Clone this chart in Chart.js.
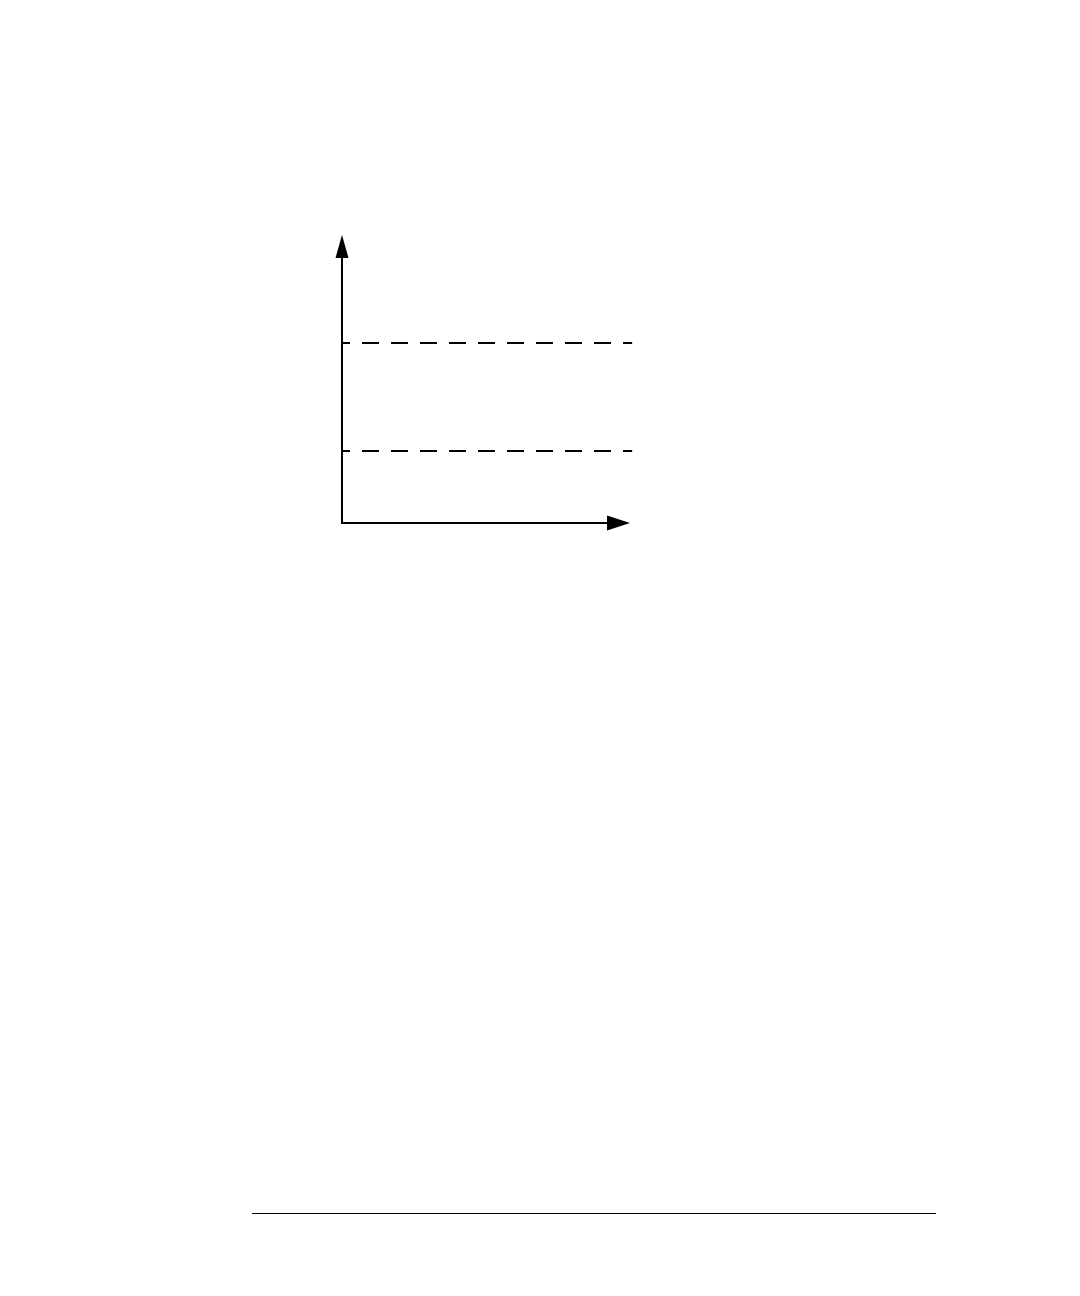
<!DOCTYPE html>
<html>
<head>
<meta charset="utf-8">
<title>Levels</title>
<script src="https://cdn.jsdelivr.net/npm/chart.js@4/dist/chart.umd.min.js"></script>
<style>
    html, body { margin: 0; padding: 0; background: #ffffff; }
    #wrap { position: relative; width: 1080px; height: 1296px; }
    #footerRule {
        position: absolute;
        left: 252px;
        top: 1213px;
        width: 684px;
        height: 0;
        border-top: 1.5px solid #000000;
    }
</style>
</head>
<body>
<div id="wrap">
    <canvas id="levelChart" width="1080" height="1296"></canvas>
    <div id="footerRule"></div>
</div>
<script>
// Axis ranges
const xRange = [0, 4];
const yRange = [0, 4];
// Horizontal dashed levels (lower, upper) and where they stop on x
const levelValues = [1, 2.5];
const levelSpan = [0, 4.03];

(function () {
    let levelChart = null;

    // Draw the two axes with arrow heads
    const arrowAxes = {
        id: 'arrowAxes',
        afterDraw(chart) {
            const ctx = chart.ctx;
            const area = chart.chartArea;
            const x0 = area.left;
            const y0 = area.bottom;

            ctx.save();
            ctx.strokeStyle = '#000000';
            ctx.fillStyle = '#000000';
            ctx.lineWidth = 2;

            // vertical axis
            ctx.beginPath();
            ctx.moveTo(x0, y0 + 1);
            ctx.lineTo(x0, area.top + 20);
            ctx.stroke();
            ctx.beginPath();
            ctx.moveTo(x0, area.top);
            ctx.lineTo(x0 - 6.5, area.top + 23);
            ctx.lineTo(x0 + 6.5, area.top + 23);
            ctx.closePath();
            ctx.fill();

            // horizontal axis
            ctx.beginPath();
            ctx.moveTo(x0 - 1, y0);
            ctx.lineTo(area.right - 20, y0);
            ctx.stroke();
            ctx.beginPath();
            ctx.moveTo(area.right, y0);
            ctx.lineTo(area.right - 23, y0 - 7.5);
            ctx.lineTo(area.right - 23, y0 + 7.5);
            ctx.closePath();
            ctx.fill();

            ctx.restore();
        }
    };

    function buildLevelSets() {
        return levelValues.map(v => ({
            label: 'level ' + v,
            data: [{ x: levelSpan[0], y: v }, { x: levelSpan[1], y: v }],
            borderColor: '#000000',
            borderWidth: 2,
            borderDash: [17, 12],
            borderDashOffset: 9,
            pointRadius: 0,
            fill: false,
            clip: false
        }));
    }

    function createChart() {
        const ctx = document.getElementById('levelChart').getContext('2d');
        if (levelChart) {
            levelChart.destroy();
        }

        levelChart = new Chart(ctx, {
            type: 'line',
            data: { datasets: buildLevelSets() },
            options: {
                responsive: false,
                animation: false,
                devicePixelRatio: 1,
                layout: {
                    padding: { left: 342, right: 450, top: 235, bottom: 773 }
                },
                plugins: {
                    legend: { display: false },
                    tooltip: { enabled: false }
                },
                scales: {
                    x: { type: 'linear', min: xRange[0], max: xRange[1], display: false },
                    y: { type: 'linear', min: yRange[0], max: yRange[1], display: false }
                }
            },
            plugins: [arrowAxes]
        });
    }

    createChart();
})();
</script>
</body>
</html>
